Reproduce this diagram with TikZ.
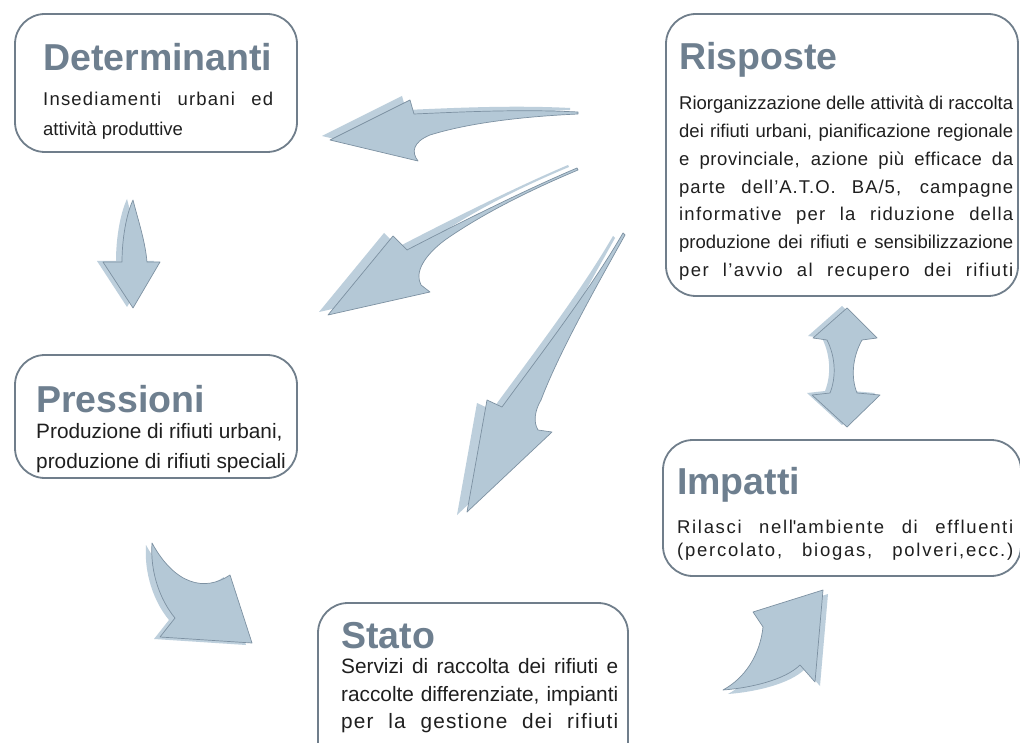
\documentclass[tikz,border=0pt]{standalone}
\usepackage{fontspec}
\setmainfont{Liberation Sans}
\definecolor{boxc}{HTML}{707E8B}
\definecolor{titlec}{HTML}{6E7F8F}
\definecolor{arrowc}{HTML}{B4C8D6}
\definecolor{shadc}{HTML}{BDCFDC}
\definecolor{arrowl}{HTML}{7D91A2}
\tikzset{
 box/.style={draw=boxc, line width=1.8pt, rounded corners=30pt, fill=white, inner sep=0pt},
 ttl/.style={font=\fontsize{37.5}{40}\selectfont\bfseries, text=titlec, anchor=base west, inner sep=0pt},
 body/.style={font=\fontsize{18.5}{22}\selectfont, text=black!88, anchor=base west, inner sep=0pt},
 bodyL/.style={body, font=\fontsize{20.8}{24}\selectfont},
 arrbody/.style={fill=arrowc, draw=arrowl, line width=0.7pt, line join=round},
 arrshad/.style={fill=shadc},
}
\newcommand\jl[2]{\makebox[#1][s]{#2}}
\newcommand\jls[3]{{\addfontfeatures{LetterSpace=#2}\makebox[#1][s]{#3}}}
\newcommand\arrA[1]{\path[#1] (578,112) .. controls (520,109) and (460,112) .. (414,114) -- (410,100) -- (330,140) -- (418,161) .. controls (411,152) and (413,142) .. (430,135) .. controls (475,121) and (535,116) .. (578,114) -- cycle;}
\newcommand\arrB[1]{\path[#1] (577,168) .. controls (525,190) and (455,225) .. (407,250) -- (393,236) -- (328,315) -- (430,292) -- (421,285) .. controls (414,272) and (425,255) .. (445,240) .. controls (485,212) and (535,188) .. (578,170) -- cycle;}
\newcommand\arrC[1]{\path[#1] (623,233) .. controls (590,290) and (540,355) .. (502,407) -- (487,400) -- (467,512) -- (552,432) -- (538,430) .. controls (533,422) and (535,410) .. (541,400) .. controls (560,350) and (600,280) .. (625,235) -- cycle;}
\newcommand\arrD[1]{\path[#1] (133,200) .. controls (138,220) and (145,240) .. (147,262) -- (160,262) -- (133,308) -- (103,262) -- (122,262) .. controls (122,240) and (126,215) .. (133,200) -- cycle;}
\newcommand\arrE[1]{\path[#1] (152,543) .. controls (175,585) and (205,592) .. (230,575) -- (252,643) -- (160,637) -- (175,618) .. controls (160,600) and (150,572) .. (152,543) -- cycle;}
\newcommand\arrF[1]{\path[#1] (723,690) .. controls (750,688) and (785,680) .. (800,665) -- (815,682) -- (823,590) -- (753,612) -- (763,627) .. controls (760,655) and (745,678) .. (723,690) -- cycle;}
\newcommand\arrG[1]{\path[#1] (847,308) -- (877,338) -- (862,340) .. controls (852,358) and (851,378) .. (857,393) -- (880,395) -- (847,427) -- (812,395) -- (830,393) .. controls (836,378) and (836,358) .. (827,340) -- (813,338) -- cycle;}
\begin{document}
\begin{tikzpicture}[x=1pt,y=-1pt]
\useasboundingbox (0,0) rectangle (1020,743);
\clip (0,0) rectangle (1020,743);
\fill[white] (0,0) rectangle (1020,743);
% boxes
\node[box, minimum width=282pt, minimum height=138pt] (det) at (156,83) {};
\node[box, minimum width=352pt, minimum height=282pt] (ris) at (842,155) {};
\node[box, minimum width=282pt, minimum height=123pt] (pre) at (156,416.5) {};
\node[box, minimum width=310pt, minimum height=180pt] (sta) at (473,693) {};
\node[box, minimum width=358pt, minimum height=136pt] (imp) at (842,508) {};
% titles
\node[ttl] (tdet) at (43,71) {Determinanti};
\node[ttl] (tris) at (679,70) {Risposte};
\node[ttl] (tpre) at (36,412) {Pressioni};
\node[ttl] (tsta) at (341,648) {Stato};
\node[ttl] (timp) at (677,494) {Impatti};
% Determinanti text
\node[body] (d1) at (43,106) {\jls{230pt}{6.5}{Insediamenti urbani ed}};
\node[body] (d2) at (43,136) {attività produttive};
% Risposte text
\node[body] (r1) at (679,110) {\jl{334pt}{Riorganizzazione delle attività di raccolta}};
\node[body] (r2) at (679,137.7) {\jl{334pt}{dei rifiuti urbani, pianificazione regionale}};
\node[body] (r3) at (679,165.4) {\jls{334pt}{3.2}{e provinciale, azione più efficace da}};
\node[body] (r4) at (679,193.1) {\jls{334pt}{5.4}{parte dell’A.T.O. BA/5, campagne}};
\node[body] (r5) at (679,220.8) {\jls{334pt}{6.5}{informative per la riduzione della}};
\node[body] (r6) at (679,248.5) {\jl{334pt}{produzione dei rifiuti e sensibilizzazione}};
\node[body] (r7) at (679,276.2) {\jls{334pt}{7.5}{per l’avvio al recupero dei rifiuti}};
% Pressioni text
\node[bodyL] (p1) at (36,438) {Produzione di rifiuti urbani,};
\node[bodyL] (p2) at (36,468) {produzione di rifiuti speciali};
% Stato text
\node[bodyL] (s1) at (341,673) {\jl{277pt}{Servizi di raccolta dei rifiuti e}};
\node[bodyL] (s2) at (341,701) {\jl{277pt}{raccolte differenziate, impianti}};
\node[bodyL] (s3) at (341,728) {\jls{277pt}{5.7}{per la gestione dei rifiuti}};
% Impatti text
\node[body] (i1) at (677,533) {\jls{336pt}{9}{Rilasci nell\textquotesingle ambiente di effluenti}};
\node[body] (i2) at (677,556) {\jls{336pt}{9.5}{(percolato, biogas, polveri,ecc.)}};
% arrows
\arrA{arrshad, shift={(-8,-4)}} \arrA{arrbody}
\arrB{arrshad, shift={(-9,-3)}} \arrB{arrbody}
\arrC{arrshad, shift={(-10,3)}} \arrC{arrbody}
\arrD{arrshad, shift={(-6,-1)}} \arrD{arrbody}
\arrE{arrshad, shift={(-6,2)}} \arrE{arrbody}
\arrF{arrshad, shift={(5,4)}} \arrF{arrbody}
\arrG{arrshad, shift={(-5,-2)}} \arrG{arrbody}
\end{tikzpicture}
\end{document}
